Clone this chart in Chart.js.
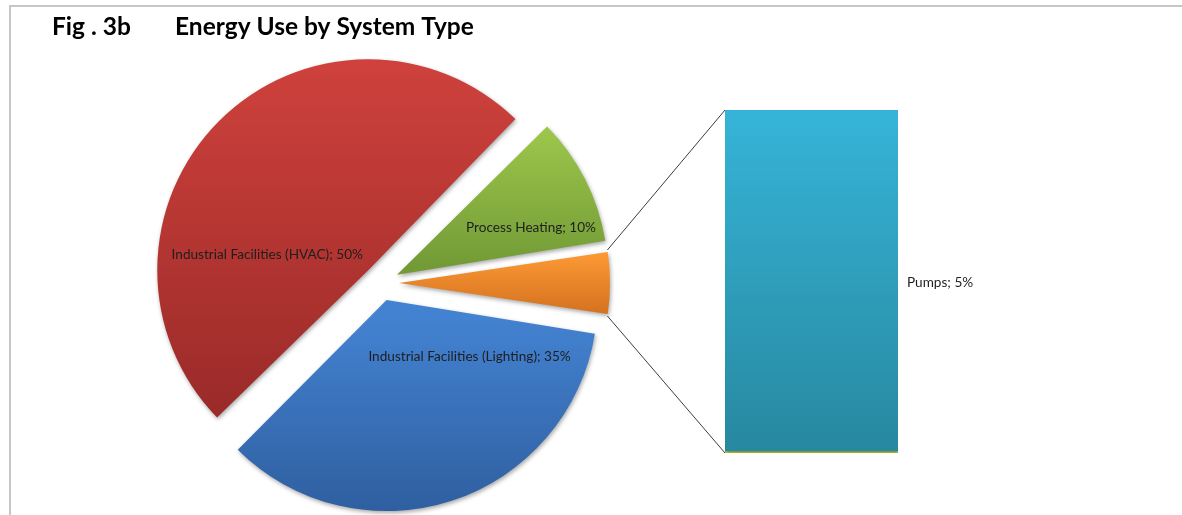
<!DOCTYPE html>
<html>
<head>
<meta charset="utf-8">
<title>Energy Use by System Type</title>
<script src="https://cdn.jsdelivr.net/npm/chart.js@4.4.0/dist/chart.umd.min.js"></script>
<style>
  html, body { margin: 0; padding: 0; background: #fff; }
  #wrap { position: relative; width: 1182px; height: 515px; overflow: hidden; }
  #wrap canvas { position: absolute; left: 0; top: 0; }
  .frame {
    position: absolute; left: 9px; top: 5px; right: 0; bottom: 0;
    border-left: 2px solid #c6c6c6; border-top: 2px solid #c6c6c6;
  }
</style>
</head>
<body>
<div id="wrap">
  <div class="frame"></div>
  <canvas id="pie" width="1182" height="515"></canvas>
  <canvas id="bar" width="1182" height="515"></canvas>
</div>
<script>
// main pie: the last slice is the "other" group broken out in the bar
const pieLabels = ['Industrial Facilities (Lighting)', 'Industrial Facilities (HVAC)', 'Process Heating', 'Other'];
const pieValues = [35, 50, 10, 5];
const barLabels = ['Pumps'];
const barValues = [5];

const titleFig = 'Fig . 3b';
const titleText = 'Energy Use by System Type';

const pieColors = [
    ['#4382d1', '#2d5c9b'],
    ['#d1423d', '#9b2b29'],
    ['#a0ca4d', '#729b36'],
    ['#ff9b35', '#d2701f']
];
const barColors = ['#36b4d8', '#27889f'];

const RADIUS = 211;
const EXPLODE = 18;
const LABEL_FONT = '13.6px Lato';

// label placement relative to each slice's drawn centre (null = no label)
const labelShift = [[83, 56], [-101, -16], [134, -47], null];

const total = pieValues.reduce((s, v) => s + v, 0);
const otherIdx = pieValues.length - 1;
const beforeOther = pieValues.slice(0, otherIdx).reduce((s, v) => s + v, 0);
// turn the pie so the "other" slice points straight at the bar
const pieRotation = 90 - (beforeOther + pieValues[otherIdx] / 2) / total * 360 + 360;

// chart.js moves an arc by offset/4 and also grows its radius by a
// circumference dependent amount; undo the growth so every slice keeps RADIUS
function arcFix(arc) {
    return 1 - Math.sin(Math.min(Math.PI, arc.circumference));
}

function arcGeom(arc) {
    const shift = (arc.options.offset || 0) / 4;
    const mid = (arc.startAngle + arc.endAngle) / 2;
    return {
        x: arc.x + Math.cos(mid) * shift,
        y: arc.y + Math.sin(mid) * shift,
        r: arc.outerRadius + shift * arcFix(arc)
    };
}

const explodeFix = {
    id: 'explodeFix',
    afterDatasetUpdate(chart, args) {
        chart.getDatasetMeta(args.index).data.forEach(arc => {
            arc.outerRadius = RADIUS - EXPLODE * arcFix(arc);
        });
    }
};

function sliceGradient(context) {
    const chart = context.chart;
    const i = context.dataIndex;
    const area = chart.chartArea;
    if (!area) return pieColors[i][0];
    const cy = (area.top + area.bottom) / 2;
    let start = (pieRotation - 90) * Math.PI / 180;
    for (let k = 0; k < i; k++) start += pieValues[k] / total * Math.PI * 2;
    const end = start + pieValues[i] / total * Math.PI * 2;
    const mid = (start + end) / 2;
    const oy = cy + Math.sin(mid) * EXPLODE;
    let top = oy, bottom = oy;
    for (let t = 0; t <= 60; t++) {
        const y = oy + Math.sin(start + (end - start) * t / 60) * RADIUS;
        top = Math.min(top, y);
        bottom = Math.max(bottom, y);
    }
    const g = chart.ctx.createLinearGradient(0, top, 0, bottom);
    g.addColorStop(0, pieColors[i][0]);
    g.addColorStop(1, pieColors[i][1]);
    return g;
}

const softShadow = {
    id: 'softShadow',
    beforeDatasetsDraw(chart) {
        const ctx = chart.ctx;
        ctx.save();
        ctx.shadowColor = 'rgba(0,0,0,0.35)';
        ctx.shadowBlur = 4;
        ctx.shadowOffsetX = 1;
        ctx.shadowOffsetY = 2;
    },
    afterDatasetsDraw(chart) {
        chart.ctx.restore();
    }
};

const pieText = {
    id: 'pieText',
    afterDraw(chart) {
        const ctx = chart.ctx;
        ctx.save();
        ctx.fillStyle = '#000';
        ctx.font = 'bold 24.5px Lato';
        ctx.textBaseline = 'alphabetic';
        ctx.textAlign = 'left';
        ctx.fillText(titleFig, 52, 35);
        ctx.fillText(titleText, 175, 35);

        ctx.font = LABEL_FONT;
        ctx.fillStyle = '#1e1e1e';
        ctx.textAlign = 'center';
        ctx.textBaseline = 'middle';
        chart.getDatasetMeta(0).data.forEach((arc, i) => {
            const shift = labelShift[i];
            if (!shift) return;
            const g = arcGeom(arc);
            ctx.fillText(pieLabels[i] + '; ' + pieValues[i] + '%', g.x + shift[0], g.y + shift[1]);
        });
        ctx.restore();
    }
};

const pieChart = new Chart(document.getElementById('pie'), {
    type: 'pie',
    data: {
        labels: pieLabels,
        datasets: [{
            data: pieValues,
            backgroundColor: sliceGradient,
            borderWidth: 0,
            offset: EXPLODE * 4
        }]
    },
    options: {
        responsive: false,
        animation: false,
        rotation: pieRotation,
        radius: RADIUS,
        layout: { padding: { left: 131, right: 551, top: 51, bottom: 0 } },
        plugins: { legend: { display: false }, tooltip: { enabled: false } },
        events: []
    },
    plugins: [explodeFix, softShadow, pieText]
});

// connector lines from the "other" slice to the bar, plus the bar label
const barExtras = {
    id: 'barExtras',
    beforeDatasetsDraw(chart) {
        const arc = pieChart.getDatasetMeta(0).data[otherIdx];
        const g = arcGeom(arc);
        const bar = chart.getDatasetMeta(0).data[0];
        const left = bar.x - bar.width / 2;
        const ctx = chart.ctx;
        ctx.save();
        ctx.strokeStyle = '#3c3c3c';
        ctx.lineWidth = 1;
        ctx.beginPath();
        ctx.moveTo(g.x + Math.cos(arc.startAngle) * g.r, g.y + Math.sin(arc.startAngle) * g.r);
        ctx.lineTo(left, bar.y);
        ctx.moveTo(g.x + Math.cos(arc.endAngle) * g.r, g.y + Math.sin(arc.endAngle) * g.r);
        ctx.lineTo(left, bar.base);
        ctx.stroke();
        ctx.restore();
    },
    afterDraw(chart) {
        const bar = chart.getDatasetMeta(0).data[0];
        const ctx = chart.ctx;
        ctx.save();
        ctx.font = LABEL_FONT;
        ctx.fillStyle = '#1e1e1e';
        ctx.textAlign = 'left';
        ctx.textBaseline = 'middle';
        ctx.fillText(barLabels[0] + '; ' + barValues[0] + '%', bar.x + bar.width / 2 + 9, (bar.y + bar.base) / 2 + 1.5);
        ctx.restore();
    }
};

new Chart(document.getElementById('bar'), {
    type: 'bar',
    data: {
        labels: [''],
        datasets: [{
            label: barLabels[0],
            data: barValues,
            backgroundColor(context) {
                const area = context.chart.chartArea;
                if (!area) return barColors[0];
                const g = context.chart.ctx.createLinearGradient(0, area.top, 0, area.bottom);
                g.addColorStop(0, barColors[0]);
                g.addColorStop(1, barColors[1]);
                return g;
            },
            borderColor: '#cbd53c',
            borderWidth: { top: 0, left: 0, right: 0, bottom: 2 },
            borderSkipped: false,
            barPercentage: 1,
            categoryPercentage: 1
        }]
    },
    options: {
        responsive: false,
        animation: false,
        layout: { padding: { left: 725, right: 284, top: 110, bottom: 62 } },
        scales: {
            x: { display: false, stacked: true },
            y: { display: false, stacked: true, min: 0, max: barValues.reduce((s, v) => s + v, 0) }
        },
        plugins: { legend: { display: false }, tooltip: { enabled: false } },
        events: []
    },
    plugins: [barExtras, softShadow]
});
</script>
</body>
</html>
